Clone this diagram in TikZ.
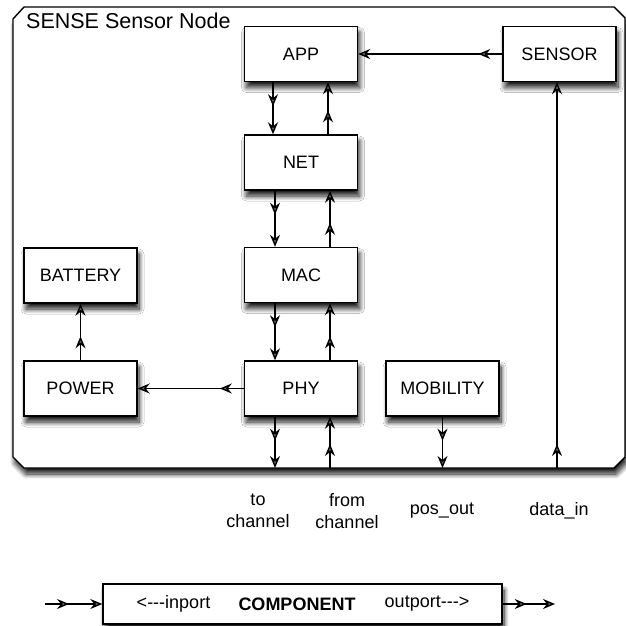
\documentclass[tikz,border=0pt]{standalone}
\usepackage{fontspec}
\setmainfont{Liberation Sans}
\usetikzlibrary{arrows.meta,decorations.markings,shadows.blur,calc}
\newcommand\hy{\mbox{-}}
\begin{document}
\begin{tikzpicture}[x=1pt,y=-1pt,
  shad/.style={blur shadow={shadow xshift=2pt,shadow yshift=-6pt,shadow blur steps=10,shadow blur radius=5pt,shadow opacity=90}},
  comp/.style={draw,line width=1.4pt,fill=white,shad,minimum width=113pt,minimum height=55pt,inner sep=0pt,font=\fontsize{18}{22}\selectfont},
  lbl/.style={font=\fontsize{18}{22}\selectfont,align=center,inner sep=0pt},
  dar/.style={line width=1.4pt,-{Stealth[length=12pt,width=10pt,inset=4pt]},postaction={decorate},
    decoration={markings,mark=at position 24pt with {\arrow{Stealth[length=12pt,width=10pt,inset=4pt]}}}},
  frame/.style={draw,line width=1.4pt,fill=white,shad}]
\useasboundingbox (0,0) rectangle (626,626);
% outer frame
\draw[frame] (13,19) -- (24,7) -- (614,7) -- (625,18) -- (625,457) -- (614,468) -- (24,468) -- (13,457) -- cycle;
\node[anchor=base west,inner sep=0pt,font=\fontsize{21.5}{24}\selectfont] (title) at (26,29) {SENSE Sensor Node};
% components
\node[comp] (APP) at (301,54) {APP};
\node[comp] (NET) at (301,162.5) {NET};
\node[comp] (MAC) at (301,275) {MAC};
\node[comp] (PHY) at (301,388.5) {PHY};
\node[comp] (SENSOR) at (559.5,54) {SENSOR};
\node[comp] (BATTERY) at (80.5,275.5) {BATTERY};
\node[comp] (POWER) at (80.5,388.5) {POWER};
\node[comp] (MOBILITY) at (442.5,388.5) {MOBILITY};
% helper coordinates
\coordinate (xL0) at (273,0);
\coordinate (xR0) at (328,0);
\coordinate (xL) at (275,0);
\coordinate (xR) at (330,0);
\coordinate (tochan) at (275,468);
\coordinate (fromchan) at (330,468);
\coordinate (posout) at (442.5,468);
\coordinate (datain) at (557,468);
% connectors
\draw[dar] (APP.south -| xL0) -- (NET.north -| xL0);
\draw[dar] (NET.north -| xR0) -- (APP.south -| xR0);
\draw[dar] (NET.south -| xL) -- (MAC.north -| xL);
\draw[dar] (MAC.north -| xR) -- (NET.south -| xR);
\draw[dar] (MAC.south -| xL) -- (PHY.north -| xL);
\draw[dar] (PHY.north -| xR) -- (MAC.south -| xR);
\draw[dar] (PHY.south -| xL) -- (tochan);
\draw[dar] (fromchan) -- (PHY.south -| xR);
\draw[dar] (MOBILITY.south) -- (posout);
\draw[dar] (datain) -- (SENSOR.south -| datain);
\draw[dar] (SENSOR.west) -- (APP.east);
\draw[dar] (PHY.west) -- (POWER.east);
\draw[dar] (POWER.north) -- (BATTERY.south);
% port labels
\node[lbl] (lto) at (258,511) {to\\channel};
\node[lbl] (lfrom) at (347,511) {from\\channel};
\node[lbl] (lpos) at (442,511) {pos\_out};
\node[lbl] (ldata) at (559,511) {data\_in};
% legend
\node[comp,minimum width=399pt,minimum height=40pt] (leg) at (302.5,604) {};
\node[lbl] (lin) at (173.5,604) {<\hy\hy\hy inport};
\node[lbl,font=\fontsize{18}{22}\selectfont\bfseries] (lcomp) at (297,604) {COMPONENT};
\node[lbl] (lout) at (427,604) {outport\hy\hy\hy>};
\coordinate (legin) at (45,604);
\coordinate (legout) at (555,604);
\draw[dar] (legin) -- (leg.west);
\draw[dar] (leg.east) -- (legout);
\end{tikzpicture}
\end{document}
